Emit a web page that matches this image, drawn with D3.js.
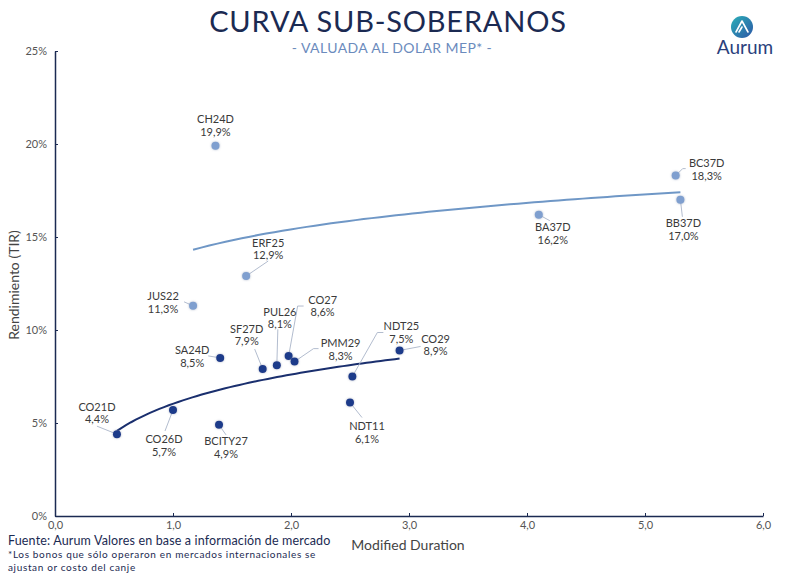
<!DOCTYPE html>
<html>
<head>
<meta charset="utf-8">
<script src="https://cdn.jsdelivr.net/npm/d3@7"></script>
<style>
  body { margin: 0; background: #fff; }
  svg { font-family: Lato, "Noto Sans", sans-serif; }
</style>
</head>
<body>
<svg id="chart" width="787" height="577"></svg>
<script>
// data
const bonds    = ["CO21D", "CO26D", "BCITY27", "SA24D", "SF27D", "PUL26", "CO27", "PMM29", "NDT25", "NDT11", "CO29",
                  "CH24D", "JUS22", "ERF25", "BA37D", "BC37D", "BB37D"];
const duration = [0.525, 1.00, 1.39, 1.40, 1.76, 1.88, 1.98, 2.03, 2.52, 2.50, 2.92,
                  1.36, 1.17, 1.62, 4.10, 5.26, 5.30];
const tir      = [4.4, 5.7, 4.9, 8.5, 7.9, 8.1, 8.6, 8.3, 7.5, 6.1, 8.9,
                  19.9, 11.3, 12.9, 16.2, 18.3, 17.0];
const group    = ["dark", "dark", "dark", "dark", "dark", "dark", "dark", "dark", "dark", "dark", "dark",
                  "light", "light", "light", "light", "light", "light"];
const xTicks = [0, 1, 2, 3, 4, 5, 6];
const yTicks = [0, 5, 10, 15, 20, 25];

// label placement (name line centre and leader path, relative to the dot)
const labelLayout = {
  CO21D:   { dx: -20, dy: -27, leader: [[-20, -8]] },
  CO26D:   { dx: -9,  dy: 30,  leader: [[-8, 21]] },
  BCITY27: { dx: 7,   dy: 17,  leader: [[7, 10]] },
  SA24D:   { dx: -28, dy: -7,  leader: [[-12, -2]] },
  SF27D:   { dx: -16, dy: -40, leader: [[-8, -20]] },
  PUL26:   { dx: 3,   dy: -53, leader: [[1, -36]] },
  CO27:    { dx: 34,  dy: -56, leader: [[9, -50], [15, -50]] },
  PMM29:   { dx: 46,  dy: -18, leader: [[19, -13], [24, -13]] },
  NDT25:   { dx: 49,  dy: -50, leader: [[25, -44], [31, -44]] },
  NDT11:   { dx: 17,  dy: 24,  leader: [[12, 15]] },
  CO29:    { dx: 36,  dy: -11, leader: [[21, -4]] },
  CH24D:   { dx: 0,   dy: -26, leader: null },
  JUS22:   { dx: -30, dy: -9,  leader: [[-9, -4]] },
  ERF25:   { dx: 22,  dy: -33, leader: [[22, -15]] },
  BA37D:   { dx: 14,  dy: 13,  leader: [[11, 6]] },
  BC37D:   { dx: 31,  dy: -12, leader: [[7, -7], [10, -7]] },
  BB37D:   { dx: 3,   dy: 24,  leader: [[2, 17]] }
};

const colors = { dark: "#1d3a8a", light: "#7f9fcf" };
const trendColors = { dark: "#1a2f6e", light: "#6f97c6" };
const navy = "#1b2a52";

const svg = d3.select("#chart");
const margin = { top: 51, right: 24, bottom: 61, left: 55 };
const width = 787, height = 577;

const x = d3.scaleLinear().domain([0, 6]).range([margin.left, width - margin.right]);
const y = d3.scaleLinear().domain([0, 25]).range([height - margin.bottom, margin.top]);

const points = bonds.map((b, i) => ({ name: b, d: duration[i], t: tir[i], g: group[i] }));

// title
svg.append("text")
  .attr("x", 388).attr("y", 32)
  .attr("text-anchor", "middle")
  .attr("font-size", 29)
  .attr("letter-spacing", 0.8)
  .attr("fill", navy)
  .text("CURVA SUB-SOBERANOS");
svg.append("text")
  .attr("x", 392).attr("y", 53)
  .attr("text-anchor", "middle")
  .attr("font-size", 14)
  .attr("letter-spacing", 0.4)
  .attr("fill", "#6b8bbd")
  .text("- VALUADA AL DOLAR MEP* -");

// logo
const defs = svg.append("defs");
const grad = defs.append("linearGradient").attr("id", "logoGrad")
  .attr("x1", "0%").attr("y1", "0%").attr("x2", "100%").attr("y2", "100%");
grad.append("stop").attr("offset", "0%").attr("stop-color", "#2bb0b8");
grad.append("stop").attr("offset", "100%").attr("stop-color", "#2c56a6");
svg.append("circle").attr("cx", 742).attr("cy", 27).attr("r", 11).attr("fill", "url(#logoGrad)");
svg.append("path")
  .attr("d", "M736,32 L742,21 L748,32 M739,32 L742,27")
  .attr("stroke", "#fff").attr("stroke-width", 1.6).attr("fill", "none")
  .attr("stroke-linecap", "round").attr("stroke-linejoin", "round");
svg.append("text")
  .attr("x", 745).attr("y", 54)
  .attr("text-anchor", "middle")
  .attr("font-size", 19)
  .attr("fill", "#2b3f7c")
  .text("Aurum");

// shadow for the dots
const shadow = defs.append("filter").attr("id", "dotShadow")
  .attr("x", "-50%").attr("y", "-50%").attr("width", "200%").attr("height", "200%");
shadow.append("feDropShadow").attr("dx", 0).attr("dy", 0).attr("stdDeviation", 1.2)
  .attr("flood-color", "#7a8aa8").attr("flood-opacity", 0.6);

// axes
const xAxis = d3.axisBottom(x).tickValues(xTicks)
  .tickFormat(d => d3.format(".1f")(d).replace(".", ","))
  .tickSizeInner(-3).tickSizeOuter(0);
const xg = svg.append("g")
  .attr("transform", `translate(0,${y(0)})`)
  .call(xAxis);
xg.select(".domain").attr("stroke", navy).attr("stroke-width", 1.5);
xg.selectAll(".tick line").attr("stroke", navy);
xg.selectAll("text")
  .attr("y", 5)
  .attr("font-size", 11)
  .attr("fill", "#555")
  .attr("font-family", "Lato, sans-serif");

const yAxis = d3.axisLeft(y).tickValues(yTicks)
  .tickFormat(d => d + "%")
  .tickSizeInner(-3).tickSizeOuter(0);
const yg = svg.append("g")
  .attr("transform", `translate(${x(0)},0)`)
  .call(yAxis);
yg.select(".domain").attr("stroke", navy).attr("stroke-width", 1.5);
yg.selectAll(".tick line").attr("stroke", navy);
yg.selectAll("text")
  .attr("x", -8)
  .attr("font-size", 11)
  .attr("fill", "#555")
  .attr("font-family", "Lato, sans-serif");

// axis titles
svg.append("text")
  .attr("transform", `translate(19,285) rotate(-90)`)
  .attr("text-anchor", "middle")
  .attr("font-size", 14)
  .attr("fill", "#444")
  .text("Rendimiento (TIR)");
svg.append("text")
  .attr("x", 408).attr("y", 550)
  .attr("text-anchor", "middle")
  .attr("font-size", 14)
  .attr("fill", "#444")
  .text("Modified Duration");

// footnotes
svg.append("text")
  .attr("x", 8).attr("y", 545)
  .attr("font-size", 12.5)
  .attr("letter-spacing", 0.15)
  .attr("fill", navy)
  .text("Fuente: Aurum Valores en base a información de mercado");
svg.append("text")
  .attr("x", 8).attr("y", 558)
  .attr("font-size", 10)
  .attr("letter-spacing", 0.65)
  .attr("fill", navy)
  .text("*Los bonos que sólo operaron en mercados internacionales se");
svg.append("text")
  .attr("x", 8).attr("y", 570.5)
  .attr("font-size", 10)
  .attr("letter-spacing", 0.65)
  .attr("fill", navy)
  .text("ajustan or costo del canje");

// logarithmic trend lines per group
["dark", "light"].forEach(g => {
  const pts = points.filter(p => p.g === g);
  const lx = pts.map(p => Math.log(p.d));
  const mx = d3.mean(lx), my = d3.mean(pts, p => p.t);
  const b = d3.sum(pts, (p, i) => (lx[i] - mx) * (p.t - my)) / d3.sum(lx, v => (v - mx) ** 2);
  const a = my - b * mx;
  const [x0, x1] = d3.extent(pts, p => p.d);
  const samples = d3.range(0, 61).map(k => x0 + (x1 - x0) * k / 60);
  svg.append("path")
    .datum(samples)
    .attr("fill", "none")
    .attr("stroke", trendColors[g])
    .attr("stroke-width", 2)
    .attr("d", d3.line().x(d => x(d)).y(d => y(a + b * Math.log(d))));
});

// leader lines
svg.append("g").selectAll("path")
  .data(points.filter(p => labelLayout[p.name].leader))
  .join("path")
  .attr("fill", "none")
  .attr("stroke", "#a9b4c8")
  .attr("stroke-width", 0.9)
  .attr("d", p => {
    const px = x(p.d), py = y(p.t);
    return "M" + px + "," + py + labelLayout[p.name].leader.map(q => "L" + (px + q[0]) + "," + (py + q[1])).join("");
  });

// dots
svg.append("g").selectAll("circle")
  .data(points)
  .join("circle")
  .attr("cx", p => x(p.d))
  .attr("cy", p => y(p.t))
  .attr("r", 4)
  .attr("fill", p => colors[p.g])
  .attr("filter", "url(#dotShadow)");

// labels: name line and value line
const labelG = svg.append("g")
  .attr("text-anchor", "middle")
  .attr("font-size", 11)
  .attr("fill", "#3a3a3a");
labelG.selectAll("text.name")
  .data(points)
  .join("text")
  .attr("class", "name")
  .attr("x", p => x(p.d) + labelLayout[p.name].dx)
  .attr("y", p => y(p.t) + labelLayout[p.name].dy + 3.5)
  .text(p => p.name);
labelG.selectAll("text.value")
  .data(points)
  .join("text")
  .attr("class", "value")
  .attr("x", p => x(p.d) + labelLayout[p.name].dx)
  .attr("y", p => y(p.t) + labelLayout[p.name].dy + 16)
  .text(p => d3.format(".1f")(p.t).replace(".", ",") + "%");
</script>
</body>
</html>
